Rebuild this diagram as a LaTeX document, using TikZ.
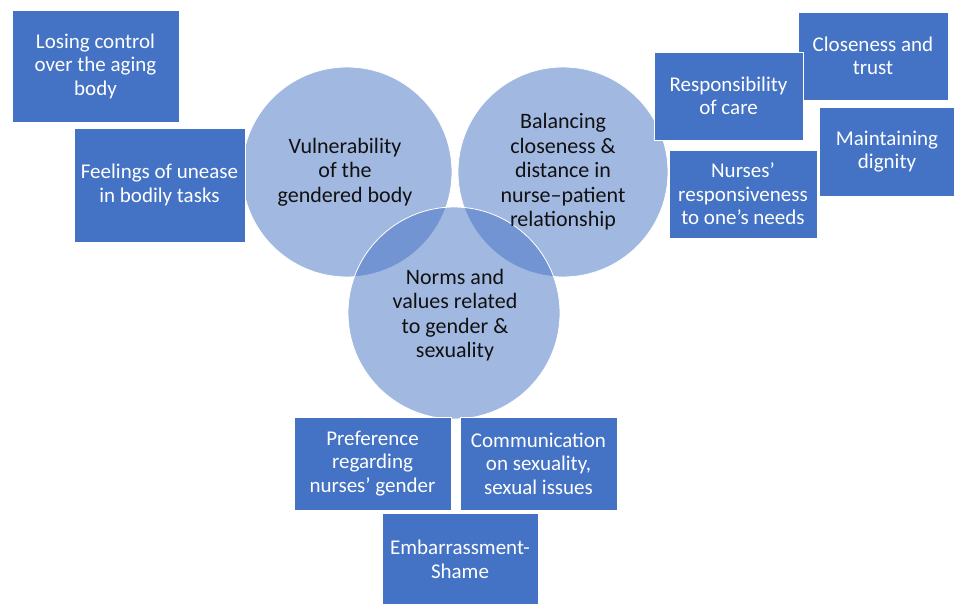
\documentclass[tikz,border=0pt]{standalone}
\usepackage{fontspec}
\setmainfont{Carlito}
\definecolor{boxblue}{HTML}{4472C4}
\definecolor{txtdark}{HTML}{111111}
\begin{document}
\begin{tikzpicture}[x=1pt,y=-1pt,
  tbox/.style={rectangle, fill=boxblue, draw=white, line width=0.8pt, text=white,
    align=center, inner sep=0pt, font=\fontsize{21}{23.5}\selectfont},
  bigc/.style={circle, fill=boxblue, fill opacity=0.5, draw=white, draw opacity=1,
    line width=0.8pt, minimum size=210pt, inner sep=0pt},
  ctext/.style={align=center, text=txtdark, inner sep=0pt, font=\fontsize{22}{24.5}\selectfont}]
\useasboundingbox (0,0) rectangle (954,604);
\fill[white] (0,0) rectangle (954,604);
% circles
\node[bigc] (cv) at (347,172) {};
\node[bigc] (cb) at (563,172) {};
\node[bigc, minimum size=212pt] (cn) at (454,313) {};
\node[ctext] (tv) at (345,172) {Vulnerability\\of the\\gendered body};
\node[ctext] (tb) at (563,172) {Balancing\\closeness \&\\distance in\\nurse–patient\\relationship};
\node[ctext] (tn) at (455,315) {Norms and\\values related\\to gender \&\\sexuality};
% left boxes
\node[tbox, minimum width=167pt, minimum height=112pt] (b1) at (95.5,66) {Losing control\\over the aging\\body};
\node[tbox, minimum width=171pt, minimum height=114pt] (b2) at (159.5,185) {Feelings of unease\\in bodily tasks};
% right boxes
\node[tbox, minimum width=150pt, minimum height=88pt] (b4) at (873,56) {Closeness and\\trust};
\node[tbox, minimum width=149pt, minimum height=88pt] (b3) at (728.5,96) {Responsibility\\of care};
\node[tbox, minimum width=136pt, minimum height=89pt] (b5) at (887,151.5) {Maintaining\\dignity};
\node[tbox, minimum width=148pt, minimum height=88pt] (b6) at (743,194) {Nurses’\\responsiveness\\to one’s needs};
% bottom boxes
\node[tbox, minimum width=157pt, minimum height=93pt] (b7) at (372.5,463.5) {Preference\\regarding\\nurses’ gender};
\node[tbox, minimum width=157pt, minimum height=93pt] (b8) at (538.5,463.5) {Communication\\on sexuality,\\sexual issues};
\node[tbox, minimum width=156pt, minimum height=93pt] (b9) at (460,559.5) {Embarrassment-\\Shame};
\end{tikzpicture}
\end{document}
